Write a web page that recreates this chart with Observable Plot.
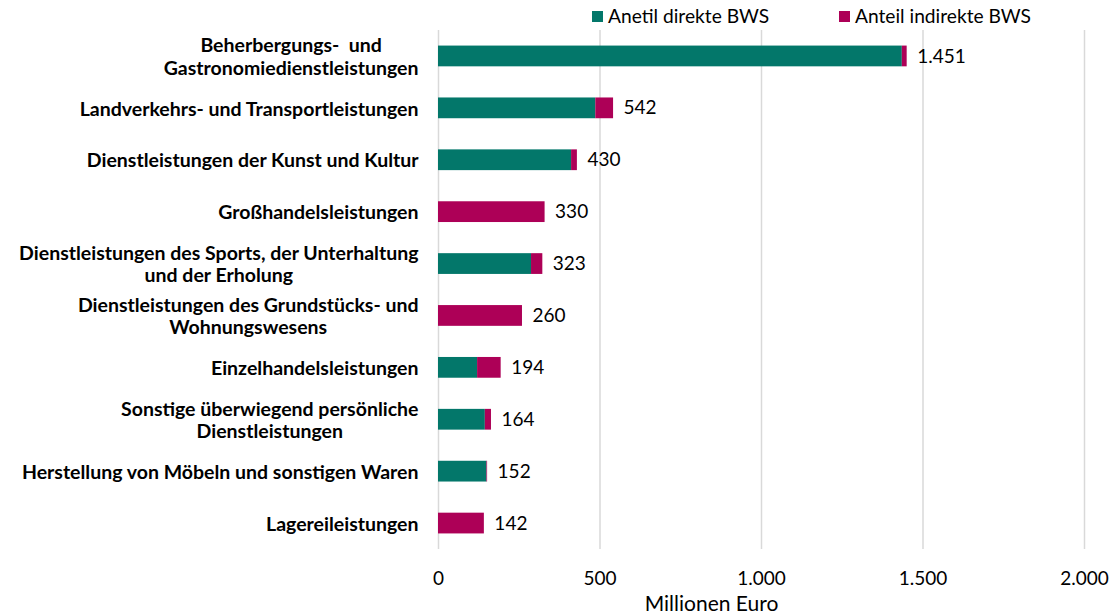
<!DOCTYPE html>
<html>
<head>
<meta charset="utf-8">
<script src="https://cdn.jsdelivr.net/npm/d3@7"></script>
<script src="https://cdn.jsdelivr.net/npm/@observablehq/plot@0.6"></script>
<style>
  html, body { margin: 0; padding: 0; background: #fff; }
  body { position: relative; width: 1111px; height: 616px; overflow: hidden; font-family: "Lato", sans-serif; }
  #chart { position: absolute; left: 0; top: 0; z-index: 0; }
  .leg { position: absolute; top: 5px; z-index: 2; font-size: 19.2px; color: #000; display: flex; align-items: center; white-space: nowrap; line-height: 22px; }
  .leg span.sw { display: inline-block; width: 11px; height: 11px; margin-right: 5px; }
</style>
</head>
<body>
<div id="chart"></div>
<div class="leg" style="left:592px"><span class="sw" style="background:#03776A"></span>Anetil direkte BWS</div>
<div class="leg" style="left:839px"><span class="sw" style="background:#AD0057"></span>Anteil indirekte BWS</div>
<script>
const categories = [
  "Beherbergungs-  und\nGastronomiedienstleistungen",
  "Landverkehrs- und Transportleistungen",
  "Dienstleistungen der Kunst und Kultur",
  "Großhandelsleistungen",
  "Dienstleistungen des Sports, der Unterhaltung\nund der Erholung",
  "Dienstleistungen des Grundstücks- und\nWohnungswesens",
  "Einzelhandelsleistungen",
  "Sonstige überwiegend persönliche\nDienstleistungen",
  "Herstellung von Möbeln und sonstigen Waren",
  "Lagereileistungen"
];
const seriesNames = ["Anetil direkte BWS", "Anteil indirekte BWS"];
const direktValues   = [1436, 487, 412, 0, 288, 0, 121, 145, 150, 0];
const indirektValues = [15, 55, 18, 330, 35, 260, 73, 19, 2, 142];
const totalValues    = [1451, 542, 430, 330, 323, 260, 194, 164, 152, 142];
const xTicks = [0, 500, 1000, 1500, 2000];
const xLabel = "Millionen Euro";
const colors = ["#03776A", "#AD0057"];

const rows = [];
categories.forEach((c, i) => {
  rows.push({cat: c, series: seriesNames[0], value: direktValues[i]});
  rows.push({cat: c, series: seriesNames[1], value: indirektValues[i]});
});
const totals = categories.map((c, i) => ({cat: c, total: totalValues[i]}));

const de = d3.formatLocale({decimal: ",", thousands: ".", grouping: [3], currency: ["", " €"]});
const fmt = de.format(",");

const chart = Plot.plot({
  width: 1111,
  height: 616,
  marginLeft: 438,
  marginRight: 27,
  marginTop: 30,
  marginBottom: 67,
  style: {fontFamily: "Lato, sans-serif", fontSize: "19px", color: "#000", background: "#fff"},
  x: {domain: [0, 2000], ticks: xTicks, tickFormat: fmt},
  y: {domain: categories, paddingInner: 0.6, paddingOuter: 0.3, round: false},
  color: {domain: seriesNames, range: colors},
  marks: [
    Plot.ruleX(xTicks, {stroke: "#d9d9d9", strokeWidth: 1.5}),
    Plot.barX(rows, {x: "value", y: "cat", fill: "series"}),
    Plot.text(totals, {x: "total", y: "cat", text: d => fmt(d.total), textAnchor: "start", dx: 10, fontSize: 19, fill: "#000"}),
    Plot.axisY({tickSize: 0, tickPadding: 20, fontWeight: "bold", fontSize: 19.5, lineHeight: 1.15, fill: "#000", label: null}),
    Plot.axisX({ticks: xTicks, tickFormat: fmt, tickSize: 0, tickPadding: 22, fontSize: 19, fill: "#000", label: null}),
    Plot.text([xLabel], {frameAnchor: "bottom", dx: -50, dy: 55, lineAnchor: "middle", fontSize: 21, fill: "#000"})
  ]
});
document.getElementById("chart").appendChild(chart);

// center multi-line y labels as a block (Excel style)
chart.querySelectorAll('g[aria-label="y-axis tick label"] text').forEach(t => {
  const spans = t.querySelectorAll("tspan");
  if (spans.length > 1) {
    let maxW = 0;
    spans.forEach(s => { maxW = Math.max(maxW, s.getComputedTextLength()); });
    t.setAttribute("text-anchor", "middle");
    spans.forEach(s => s.setAttribute("x", -maxW / 2));
  }
});
</script>
</body>
</html>
